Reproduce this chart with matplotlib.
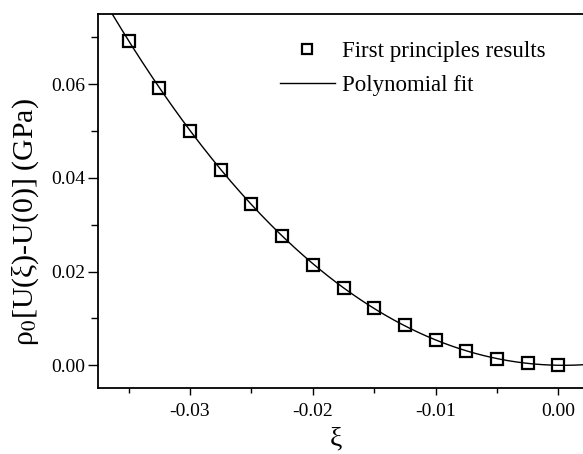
import numpy as np
import matplotlib
matplotlib.use("Agg")
import matplotlib.pyplot as plt
from matplotlib.ticker import MultipleLocator, FormatStrFormatter

# first principles points
xi = [-0.035, -0.0325, -0.03, -0.0275, -0.025, -0.0225, -0.02, -0.0175,
      -0.015, -0.0125, -0.01, -0.0075, -0.005, -0.0025, 0.0]
energy = [0.0693, 0.0593, 0.0501, 0.0418, 0.0344, 0.0277, 0.0215, 0.0164,
          0.0123, 0.0085, 0.0053, 0.0031, 0.0014, 0.0004, 0.0]

plt.rcParams['font.family'] = ['Liberation Serif', 'DejaVu Serif']
plt.rcParams['mathtext.fontset'] = 'stix'

fig = plt.figure(figsize=(5.83, 4.54), dpi=100)
ax = fig.add_axes([0.168, 0.146, 0.832, 0.823])

# polynomial fit through the points
coef = np.polyfit(xi, energy, 3)
xfit = np.linspace(-0.0375, 0.0025, 300)
ax.plot(xfit, np.polyval(coef, xfit), color="black", lw=1.0, label="Polynomial fit")
ax.plot(xi, energy, ls="none", marker="s", ms=9, mfc="none", mec="black", mew=1.6,
        label="First principles results")

ax.set_xlim(-0.0375, 0.002)
ax.set_ylim(-0.0048, 0.075)
ax.xaxis.set_major_locator(MultipleLocator(0.01))
ax.xaxis.set_minor_locator(MultipleLocator(0.005))
ax.yaxis.set_major_locator(MultipleLocator(0.02))
ax.yaxis.set_minor_locator(MultipleLocator(0.01))
ax.xaxis.set_major_formatter(FormatStrFormatter("%.2f"))
ax.yaxis.set_major_formatter(FormatStrFormatter("%.2f"))
ax.tick_params(which="both", direction="out", labelsize=14, width=1.0)
ax.tick_params(axis="y", which="major", length=7, pad=2)
ax.tick_params(axis="y", which="minor", length=5)
ax.tick_params(axis="x", which="major", length=5, pad=6)
ax.tick_params(axis="x", which="minor", length=3.5)
ax.spines["right"].set_visible(False)
for s in ["left", "bottom", "top"]:
    ax.spines[s].set_linewidth(1.3)

ax.set_xlabel("ξ", fontsize=20)
ax.xaxis.set_label_coords(0.49, -0.105)
ax.set_ylabel(r"ρ$_0$[U(ξ)-U(0)] (GPa)", fontsize=21.5)
ax.yaxis.set_label_coords(-0.118, 0.444)

h, l = ax.get_legend_handles_labels()
ax.legend([h[1], h[0]], [l[1], l[0]], loc="upper left", bbox_to_anchor=(0.48, 0.909),
          bbox_transform=fig.transFigure, frameon=False, fontsize=16.5,
          handlelength=2.4, markerscale=0.75, labelspacing=0.53, handletextpad=0.3,
          borderpad=0, borderaxespad=0)

fig.savefig("out.png", dpi=100)
